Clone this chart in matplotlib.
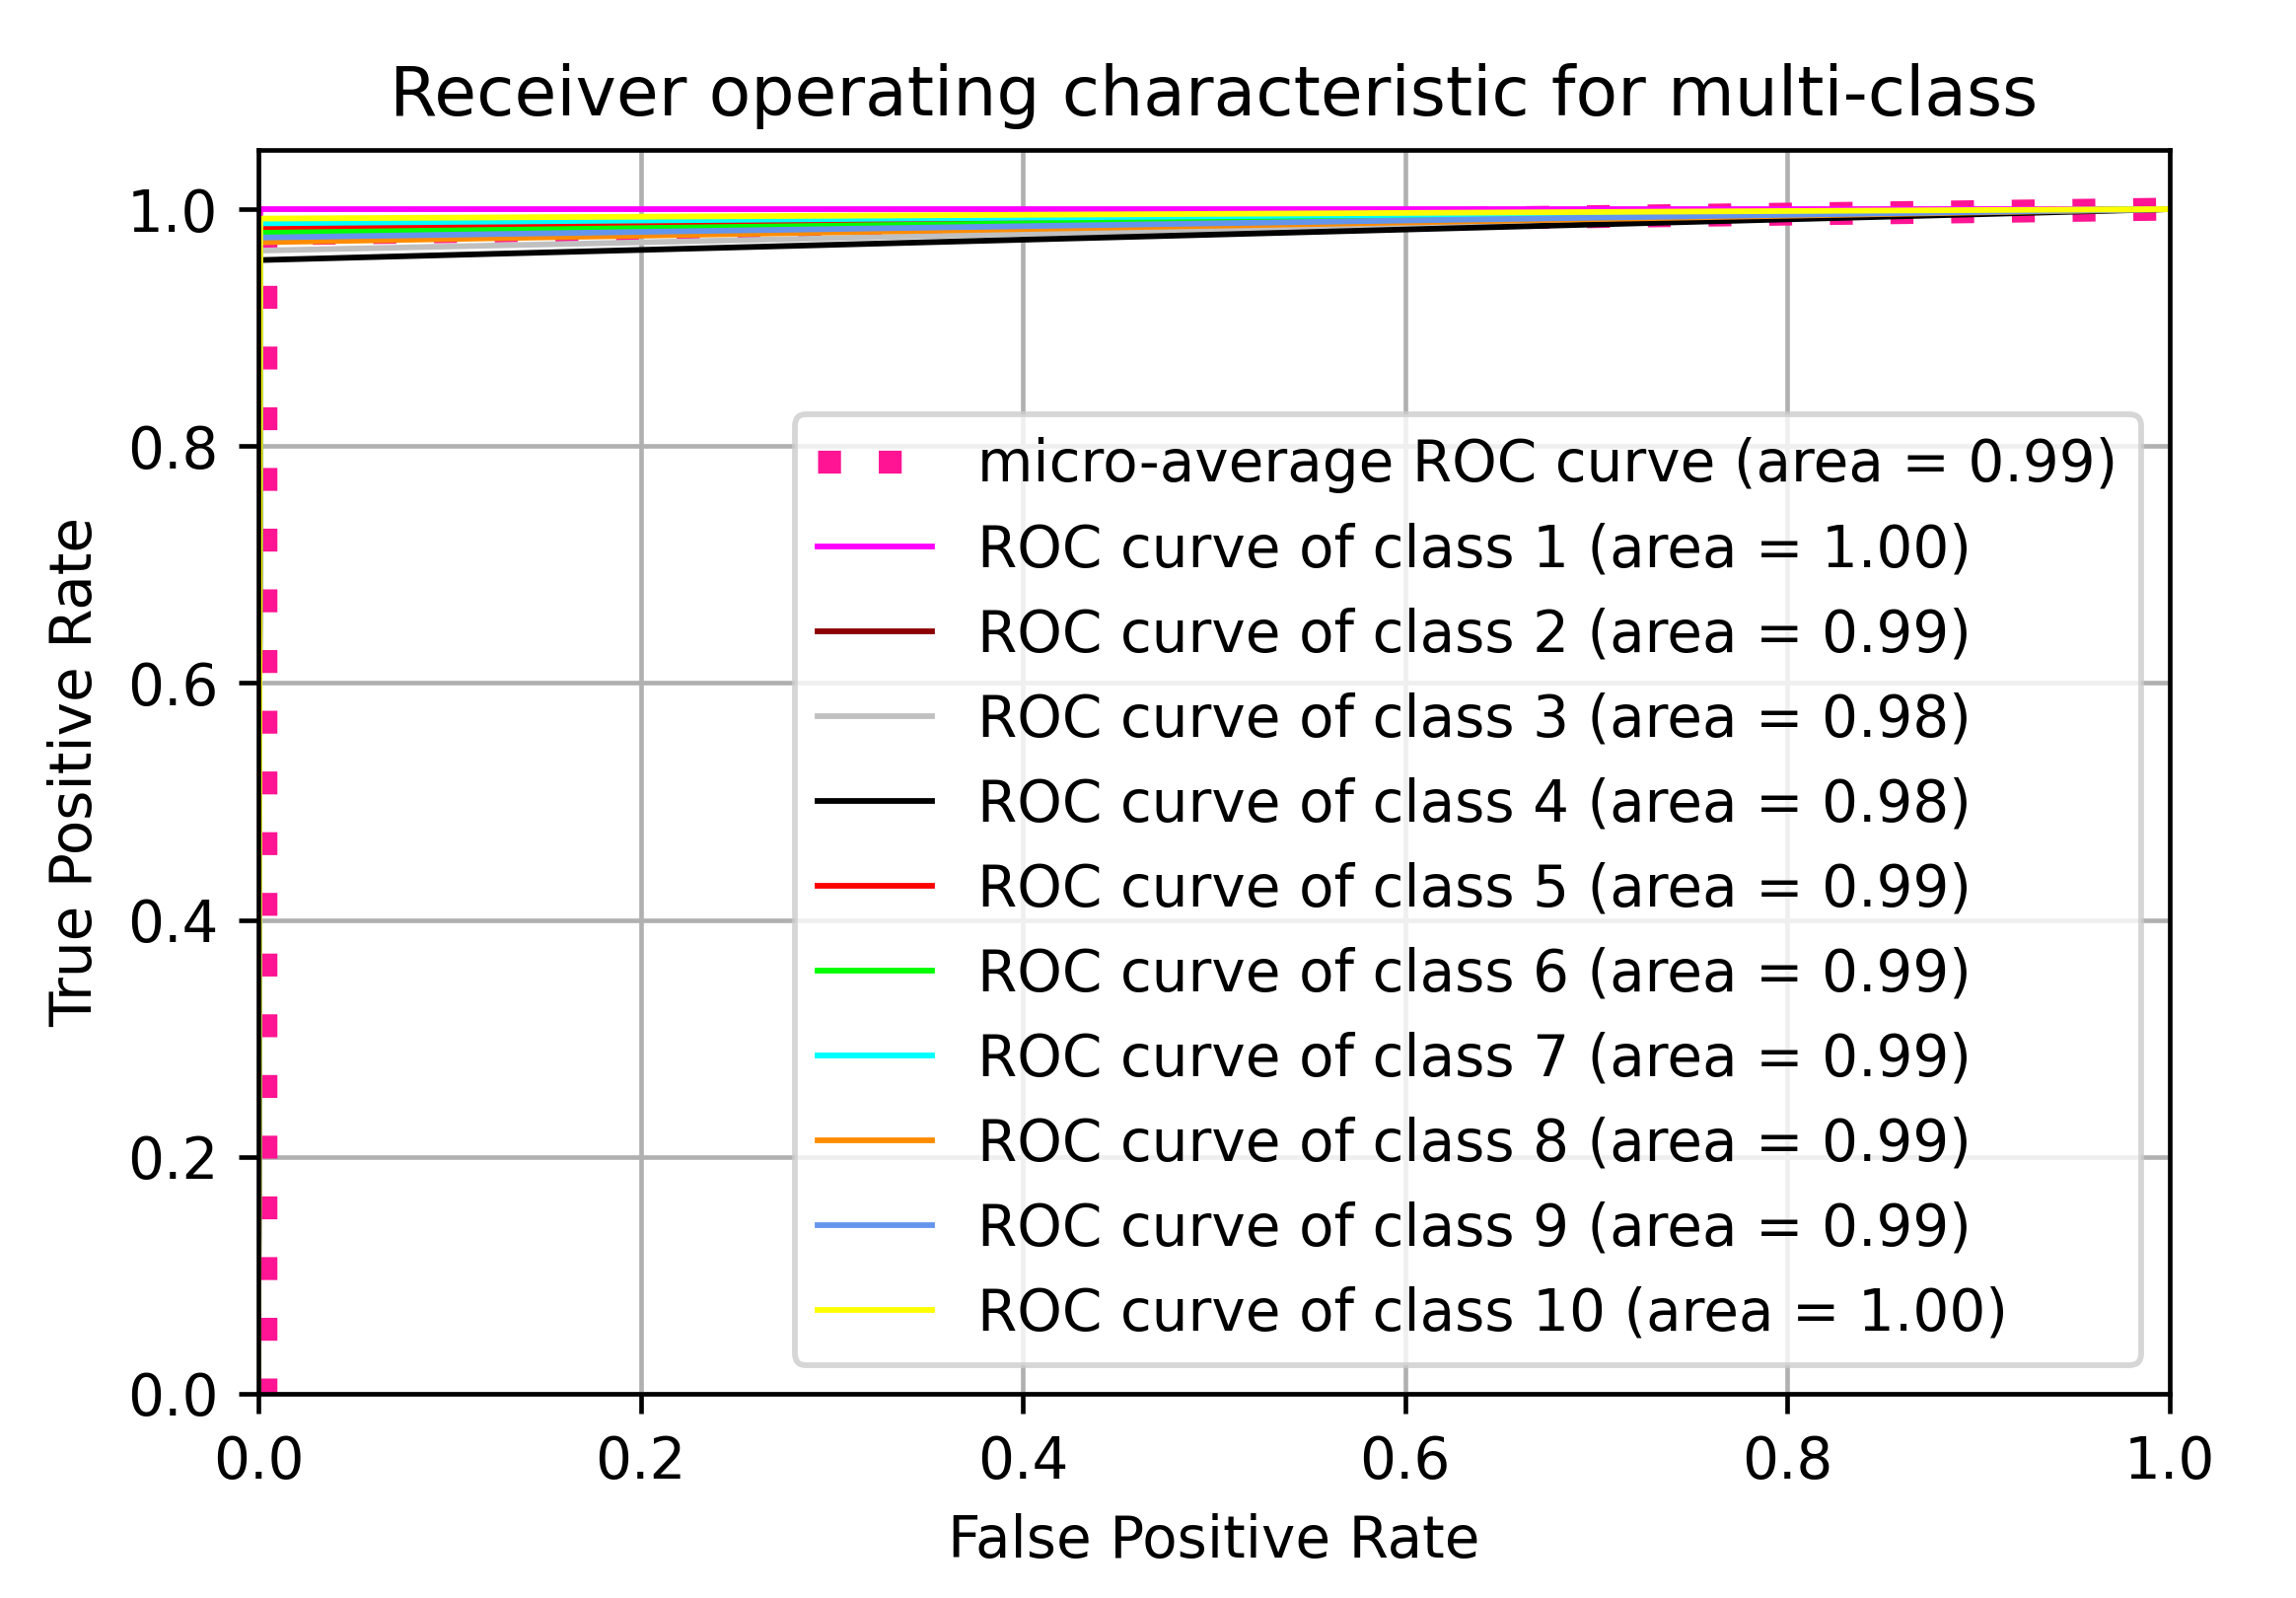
import matplotlib
matplotlib.use("Agg")
import matplotlib.pyplot as plt

# ---- data ----
class_names = ["class 1", "class 2", "class 3", "class 4", "class 5",
               "class 6", "class 7", "class 8", "class 9", "class 10"]
class_auc = [1.00, 0.99, 0.98, 0.98, 0.99, 0.99, 0.99, 0.99, 0.99, 1.00]
class_colors = ["magenta", "darkred", "silver", "black", "red",
                "lime", "cyan", "darkorange", "cornflowerblue", "yellow"]
# each class ROC: (0,0) -> (fpr_knee, tpr_knee) -> (1,1)
class_fpr = [[0.0, 0.001, 1.0]] * 10
class_tpr = [[0.0, 1.000, 1.0],
             [0.0, 0.981, 1.0],
             [0.0, 0.965, 1.0],
             [0.0, 0.957, 1.0],
             [0.0, 0.984, 1.0],
             [0.0, 0.980, 1.0],
             [0.0, 0.988, 1.0],
             [0.0, 0.972, 1.0],
             [0.0, 0.976, 1.0],
             [0.0, 0.992, 1.0]]
micro_fpr = [0.0, 0.004, 0.004, 1.0]
micro_tpr = [0.0, 0.0, 0.979, 1.0]
micro_auc = 0.99

xticks = [0.0, 0.2, 0.4, 0.6, 0.8, 1.0]
yticks = [0.0, 0.2, 0.4, 0.6, 0.8, 1.0]

# ---- figure ----
DPI = 418
fig = plt.figure(figsize=(2328 / DPI, 1620 / DPI), dpi=DPI)
ax = fig.add_axes([0.1125, 0.1278, 0.8325, 0.7784])

ax.plot(micro_fpr, micro_tpr, color="deeppink", linestyle=":", linewidth=4,
        label="micro-average ROC curve (area = {0:0.2f})".format(micro_auc))
for name, auc, col, fx, ty in zip(class_names, class_auc, class_colors,
                                   class_fpr, class_tpr):
    ax.plot(fx, ty, color=col, lw=1,
            label="ROC curve of {0} (area = {1:0.2f})".format(name, auc))

ax.set_xlim([0.0, 1.0])
ax.set_ylim([0.0, 1.05])
ax.set_xticks(xticks)
ax.set_yticks(yticks)
ax.grid(True)
ax.set_xlabel("False Positive Rate")
ax.set_ylabel("True Positive Rate")
ax.set_title("Receiver operating characteristic for multi-class")
ax.legend(loc="lower right")

fig.savefig("out.png", dpi=DPI)
